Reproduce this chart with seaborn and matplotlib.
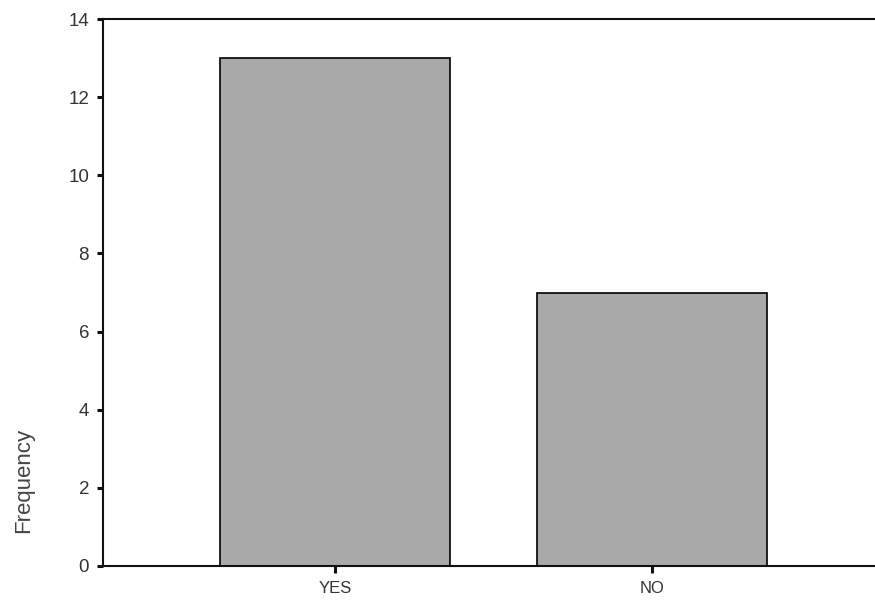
import matplotlib
matplotlib.use("Agg")
import matplotlib.pyplot as plt
import seaborn as sns
import pandas as pd

# Data
categories = ["YES", "NO"]
frequency = [13, 7]
y_ticks = [0, 2, 4, 6, 8, 10, 12, 14]

df = pd.DataFrame({"answer": categories, "Frequency": frequency})

sns.set_style("white")
plt.rcParams["font.family"] = ["Liberation Sans", "DejaVu Sans"]

fig = plt.figure(figsize=(8.75, 6), dpi=100)
ax = fig.add_axes([103 / 875, 34 / 600, 772 / 875, 547 / 600])

sns.barplot(data=df, x="answer", y="Frequency", order=categories,
            color="#a9a9a9", saturation=1, edgecolor="black",
            linewidth=1.2, width=0.726, ax=ax)

ax.set_xlim(-0.732, 1.703)
ax.set_ylim(0, 14)
ax.set_yticks(y_ticks)
ax.set_yticklabels([str(t) for t in y_ticks])

# spines like the SPSS output: left, bottom and top frame, no right edge
for side in ["left", "bottom", "top"]:
    ax.spines[side].set_visible(True)
    ax.spines[side].set_color("#111111")
    ax.spines[side].set_linewidth(1.5)
ax.spines["right"].set_visible(False)

ax.tick_params(axis="y", which="major", left=True, length=4, width=2.2,
               color="#111111", pad=6, labelsize=13.5, labelcolor="#333333")
ax.tick_params(axis="x", which="major", bottom=True, length=5, width=2.2,
               color="#111111", pad=6, labelsize=12, labelcolor="#333333")

ax.set_xlabel("")
ax.set_ylabel("Frequency", fontsize=16, color="#444444")
ax.yaxis.set_label_coords(-0.089, 0.157)

fig.savefig("out.png", dpi=100)
